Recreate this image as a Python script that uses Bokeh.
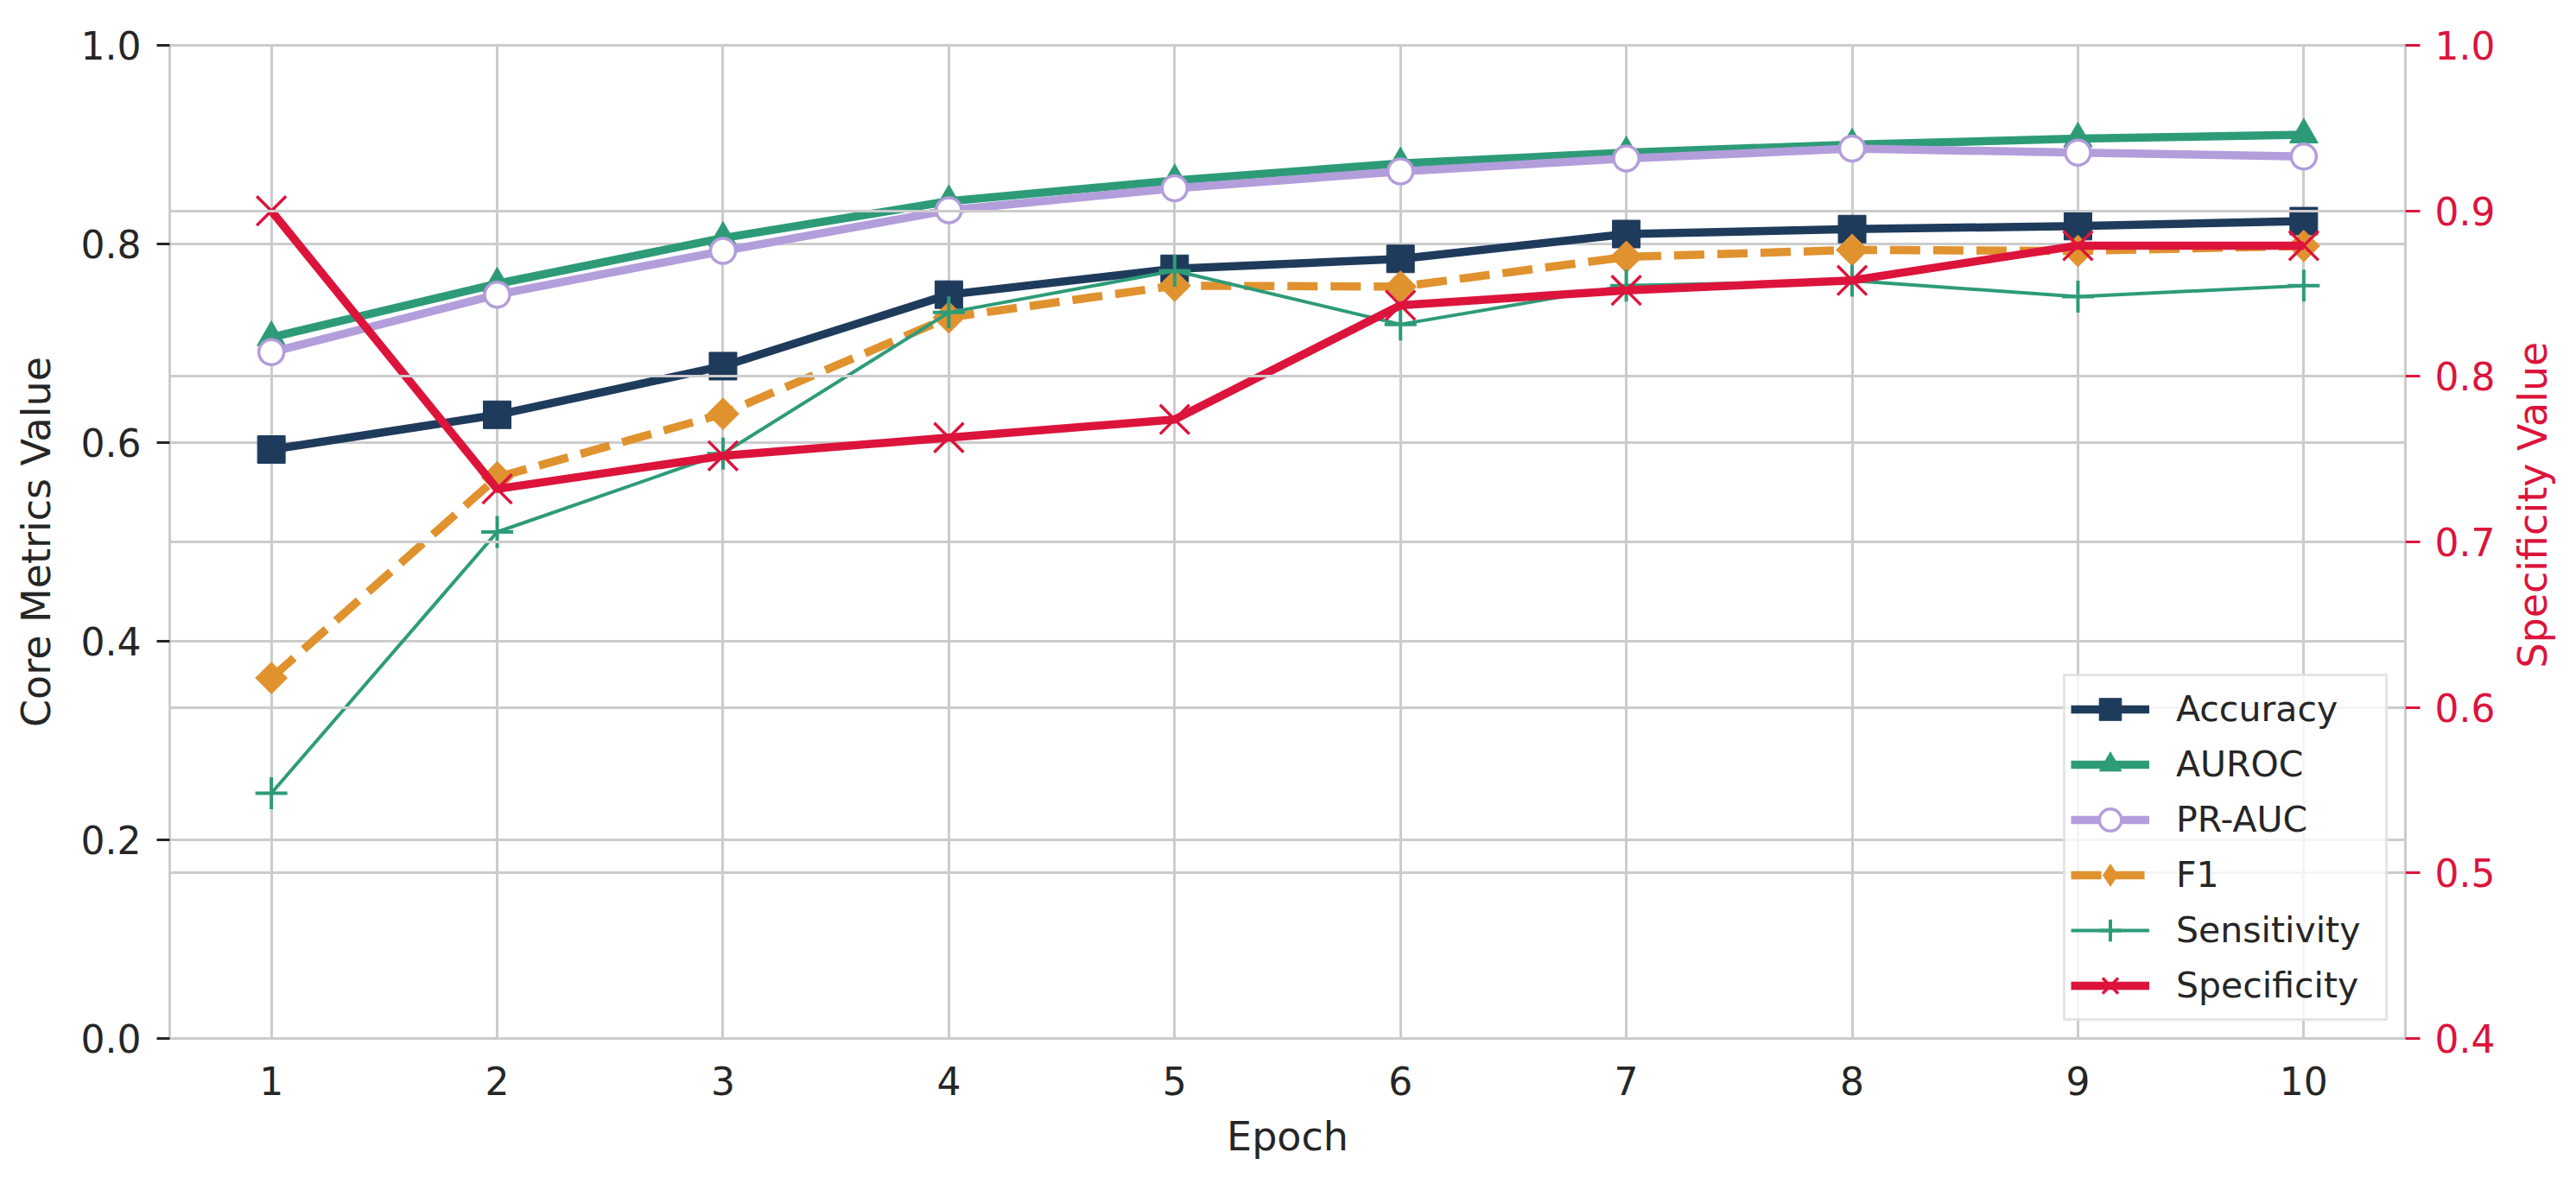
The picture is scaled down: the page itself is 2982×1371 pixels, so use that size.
import numpy as np
from bokeh.plotting import figure
from bokeh.layouts import row
from bokeh.models import (Range1d, LinearAxis, FixedTicker, PrintfTickFormatter,
                          Grid, Legend, LegendItem, Label)
from bokeh.embed import file_html
from bokeh.resources import INLINE

# ---------------- data ----------------
epochs = [1, 2, 3, 4, 5, 6, 7, 8, 9, 10]
accuracy = [0.593, 0.628, 0.677, 0.749, 0.775, 0.785, 0.810, 0.815, 0.818, 0.823]
auroc = [0.706, 0.760, 0.806, 0.843, 0.864, 0.881, 0.892, 0.900, 0.906, 0.910]
pr_auc = [0.691, 0.749, 0.793, 0.834, 0.856, 0.873, 0.886, 0.896, 0.892, 0.888]
f1 = [0.363, 0.565, 0.629, 0.726, 0.758, 0.757, 0.787, 0.794, 0.793, 0.798]
sensitivity = [0.247, 0.510, 0.589, 0.731, 0.773, 0.719, 0.758, 0.763, 0.747, 0.758]
specificity = [0.900, 0.732, 0.752, 0.763, 0.774, 0.843, 0.852, 0.858, 0.879, 0.879]

left_ticks = [0.0, 0.2, 0.4, 0.6, 0.8, 1.0]
right_ticks = [0.4, 0.5, 0.6, 0.7, 0.8, 0.9, 1.0]

# ---------------- style ----------------
NAVY = "#1f3b5c"
GREEN = "#2e9b78"
LAV = "#b39ddb"
ORANGE = "#e0922f"
CRIMSON = "#dc143c"
TXT = "#262626"
GRID = "#cccccc"
FONT = "DejaVu Sans"

FRAME_W, FRAME_H = 2588, 1150
BL, BR, BT, BB = 196, 116, 52, 153
TOTAL_H = BT + FRAME_H + BB
SIDE_W = 66

p = figure(frame_width=FRAME_W, frame_height=FRAME_H,
           x_range=Range1d(0.55, 10.45), y_range=Range1d(0.0, 1.0),
           output_backend="svg", toolbar_location=None,
           min_border_left=BL, min_border_right=BR,
           min_border_top=BT, min_border_bottom=BB,
           background_fill_color="white", border_fill_color="white")
p.extra_y_ranges = {"spec": Range1d(0.4, 1.0)}

p.outline_line_color = GRID
p.outline_line_width = 3

# x axis
xa = p.xaxis[0]
xa.ticker = FixedTicker(ticks=epochs)
xa.axis_label = "Epoch"
xa.major_tick_out = 0
xa.major_tick_in = 0
xa.minor_tick_out = 0
xa.minor_tick_in = 0
xa.axis_line_color = None
xa.major_label_standoff = 32
xa.axis_label_standoff = 18

# left axis
ya = p.yaxis[0]
ya.ticker = FixedTicker(ticks=left_ticks)
ya.formatter = PrintfTickFormatter(format="%.1f")
ya.axis_label = "Core Metrics Value"
ya.major_tick_out = 15
ya.major_tick_in = 0
ya.minor_tick_out = 0
ya.minor_tick_in = 0
ya.major_tick_line_width = 3
ya.major_tick_line_color = TXT
ya.axis_line_color = None
ya.major_label_standoff = 18
ya.axis_label_standoff = 22

# right axis (its title is drawn in a narrow side panel so it reads bottom-to-top)
ra = LinearAxis(y_range_name="spec", ticker=FixedTicker(ticks=right_ticks),
                formatter=PrintfTickFormatter(format="%.1f"))
ra.major_tick_out = 17
ra.major_tick_in = 0
ra.minor_tick_out = 0
ra.minor_tick_in = 0
ra.major_tick_line_width = 3
ra.major_tick_line_color = CRIMSON
ra.axis_line_color = None
ra.major_label_text_color = CRIMSON
ra.major_label_standoff = 17
p.add_layout(ra, "right")

for ax in [xa, ya, ra]:
    ax.major_label_text_font = FONT
    ax.major_label_text_font_size = "44px"
    ax.axis_label_text_font = FONT
    ax.axis_label_text_font_size = "46px"
    ax.axis_label_text_font_style = "normal"
for ax in [xa, ya]:
    ax.major_label_text_color = TXT
    ax.axis_label_text_color = TXT

# grids
p.xgrid.grid_line_color = GRID
p.xgrid.grid_line_width = 3
p.ygrid.grid_line_color = GRID
p.ygrid.grid_line_width = 3

grid2 = Grid(dimension=1, ticker=ra.ticker, y_range_name="spec",
             grid_line_color=GRID, grid_line_width=3, level="overlay")
p.add_layout(grid2)

# ---------------- series ----------------
items = []

l = p.line(epochs, accuracy, line_color=NAVY, line_width=9.5)
m = p.scatter(epochs, accuracy, marker="square", size=32, fill_color=NAVY, line_color=NAVY)
items.append(LegendItem(label="Accuracy", renderers=[l, m]))

l = p.line(epochs, auroc, line_color=GREEN, line_width=9.5)
m = p.scatter(epochs, auroc, marker="triangle", size=33, fill_color=GREEN, line_color=GREEN)
items.append(LegendItem(label="AUROC", renderers=[l, m]))

l = p.line(epochs, pr_auc, line_color=LAV, line_width=9.5)
m = p.scatter(epochs, pr_auc, marker="circle", size=29, fill_color="white",
              line_color=LAV, line_width=3.5)
items.append(LegendItem(label="PR-AUC", renderers=[l, m]))

l = p.line(epochs, f1, line_color=ORANGE, line_width=9.5, line_dash="35 15")
m = p.scatter(epochs, f1, marker="square", angle=np.pi / 4, size=26,
              fill_color=ORANGE, line_color=ORANGE)
# legend-only diamond (NaN position, never visible in the plot)
lm = p.scatter([epochs[0]], [np.nan], marker="diamond", size=30,
               fill_color=ORANGE, line_color=ORANGE)
items.append(LegendItem(label="F1", renderers=[l, lm]))

l = p.line(epochs, sensitivity, line_color=GREEN, line_width=4)
m = p.scatter(epochs, sensitivity, marker="cross", size=37, line_color=GREEN, line_width=4)
items.append(LegendItem(label="Sensitivity", renderers=[l, m]))

l = p.line(epochs, specificity, line_color=CRIMSON, line_width=9.5,
           y_range_name="spec", level="overlay")
m = p.scatter(epochs, specificity, marker="x", size=48, line_color=CRIMSON,
              line_width=3.5, y_range_name="spec", level="overlay")
items.append(LegendItem(label="Specificity", renderers=[l, m]))

legend = Legend(items=items, location="bottom_right",
                glyph_width=91, glyph_height=64, spacing=0, padding=6,
                label_standoff=31, label_width=236, label_text_font=FONT,
                label_text_font_size="41px", label_text_color=TXT,
                label_text_baseline="middle",
                border_line_color=GRID, border_line_width=3,
                background_fill_color="white", background_fill_alpha=0.8,
                margin=20)
p.add_layout(legend)

# ---------------- side panel holding the right-axis title ----------------
side = figure(width=SIDE_W, height=TOTAL_H,
              x_range=Range1d(0, SIDE_W), y_range=Range1d(0, TOTAL_H),
              output_backend="svg", toolbar_location=None,
              min_border=0, outline_line_color=None,
              background_fill_color="white", border_fill_color="white")
side.axis.visible = False
side.grid.visible = False
side.add_layout(Label(x=31, y=TOTAL_H - (BT + FRAME_H / 2), text="Specificity Value",
                      angle=np.pi / 2, text_align="center", text_baseline="middle",
                      text_font=FONT, text_font_size="46px", text_color=CRIMSON))

layout = row(p, side, spacing=0)
open("out.html", "w").write(file_html(layout, INLINE))
